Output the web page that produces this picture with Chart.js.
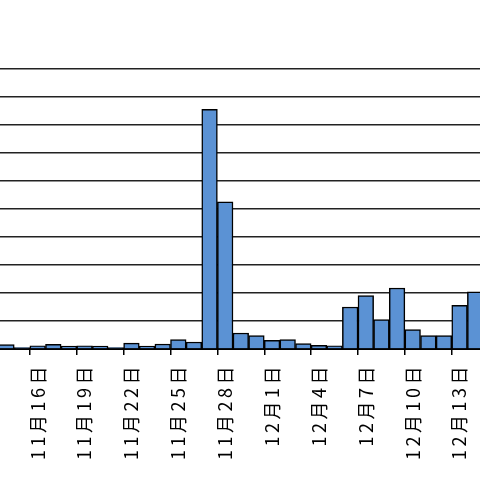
<!DOCTYPE html>
<html>
<head>
<meta charset="utf-8">
<script src="https://cdn.jsdelivr.net/npm/chart.js@4/dist/chart.umd.min.js"></script>
<style>
  html, body { margin: 0; padding: 0; background: #fff; }
  #frame { position: relative; width: 480px; height: 480px; overflow: hidden; }
  #wrap { position: absolute; left: -17px; top: 0; width: 500px; height: 480px; }
</style>
</head>
<body>
<div id="frame"><div id="wrap"><canvas id="myChart"></canvas></div></div>
<script>
// days shown (chart is cropped on both sides)
const days = ['11月13日', '11月14日', '11月15日', '11月16日', '11月17日', '11月18日', '11月19日', '11月20日',
  '11月21日', '11月22日', '11月23日', '11月24日', '11月25日', '11月26日', '11月27日', '11月28日',
  '11月29日', '11月30日', '12月1日', '12月2日', '12月3日', '12月4日', '12月5日', '12月6日',
  '12月7日', '12月8日', '12月9日', '12月10日', '12月11日', '12月12日', '12月13日', '12月14日'];

const counts = [null, 1.6, 0.5, 1.1, 1.7, 1.0, 1.1, 1.0,
  0.5, 2.1, 1.0, 1.8, 3.4, 2.5, 85.6, 52.6,
  5.7, 4.8, 3.1, 3.4, 1.9, 1.3, 1.1, 15.0,
  19.1, 10.5, 21.8, 6.9, 4.8, 4.8, 15.6, 20.4];

const yMax = 100;
const yStep = 10;
const labelEvery = 3;

const c1 = document.getElementById('myChart');

// the original labels are spread out along the text direction
const spacing = {
  id: 'spacing',
  beforeDraw(chart) {
    chart.ctx.letterSpacing = '3.5px';
  }
};

new Chart(c1, {
  type: 'bar',
  data: {
    labels: days,
    datasets: [{
      data: counts,
      backgroundColor: '#5b92d4',
      borderColor: '#000',
      borderWidth: 1.5,
      barPercentage: 1,
      categoryPercentage: 1
    }]
  },
  plugins: [spacing],
  options: {
    responsive: true,
    maintainAspectRatio: false,
    animation: false,
    layout: { padding: { top: 69, left: 0, right: 0, bottom: 0 } },
    plugins: {
      legend: { display: false },
      tooltip: { enabled: false }
    },
    scales: {
      x: {
        offset: true,
        grid: {
          offset: true,
          drawOnChartArea: false,
          tickLength: 6,
          lineWidth: 1.5,
          color: (ctx) => (ctx.index % labelEvery === 0 ? '#000' : 'rgba(0,0,0,0)')
        },
        border: { color: '#000', width: 2 },
        ticks: {
          autoSkip: false,
          minRotation: 90,
          maxRotation: 90,
          padding: 8,
          color: '#000',
          font: { family: '"Noto Sans CJK JP"', size: 18 },
          callback: function (value, index) {
            return index % labelEvery === 0 ? this.getLabelForValue(value) : '';
          }
        },
        afterFit: (scale) => {
          scale.height = 131;
          scale.paddingLeft = 0;
          scale.paddingRight = 0;
        }
      },
      y: {
        min: 0,
        max: yMax,
        ticks: { display: false, stepSize: yStep },
        grid: { color: '#222', lineWidth: 1.5, drawTicks: false },
        border: { display: false },
        afterFit: (scale) => {
          scale.width = 0;
          scale.paddingTop = 0;
          scale.paddingBottom = 0;
        }
      }
    }
  }
});
</script>
</body>
</html>
